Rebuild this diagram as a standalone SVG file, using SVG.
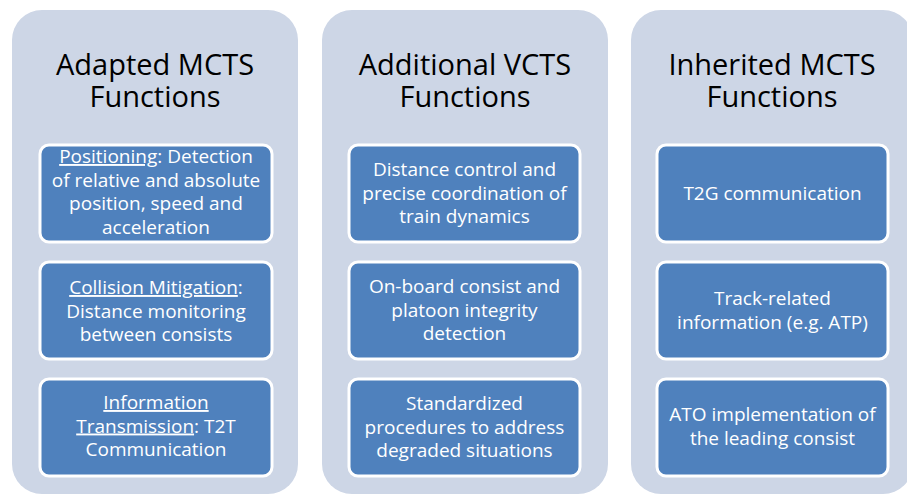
<svg xmlns="http://www.w3.org/2000/svg" width="907" height="496" viewBox="0 0 907 496">
<style>
.panel{fill:#cdd6e6;}
.box{fill:#4f81bd;stroke:#ffffff;stroke-width:3;}
.title{font-family:"Open Sans","Liberation Sans",sans-serif;font-size:29px;fill:#000000;text-anchor:middle;}
.lbl{font-family:"Open Sans","Liberation Sans",sans-serif;font-size:19px;fill:#ffffff;text-anchor:middle;}
.u{text-decoration:underline;}
</style>
<rect width="907" height="496" fill="#ffffff"/>
<g id="panel-adapted">
<rect class="panel" x="12" y="10" width="286" height="484" rx="30"/>
<text class="title" y="75"><tspan x="155">Adapted MCTS</tspan><tspan x="155" dy="32">Functions</tspan></text>
</g>
<g id="panel-additional">
<rect class="panel" x="322" y="10" width="286" height="484" rx="30"/>
<text class="title" y="75"><tspan x="465">Additional VCTS</tspan><tspan x="465" dy="32">Functions</tspan></text>
</g>
<g id="panel-inherited">
<rect class="panel" x="631" y="10" width="282" height="484" rx="30"/>
<text class="title" y="75"><tspan x="772">Inherited MCTS</tspan><tspan x="772" dy="32">Functions</tspan></text>
</g>
<g id="a1">
<rect class="box" x="40" y="145" width="232" height="97" rx="9"/>
<text class="lbl" y="163"><tspan x="156"><tspan class="u">Positioning</tspan>: Detection</tspan><tspan x="156" dy="23.5">of relative and absolute</tspan><tspan x="156" dy="23.5">position, speed and</tspan><tspan x="156" dy="23.5">acceleration</tspan></text>
</g>
<g id="a2">
<rect class="box" x="40" y="262" width="232" height="97" rx="9"/>
<text class="lbl" y="294"><tspan x="156"><tspan class="u">Collision Mitigation</tspan>:</tspan><tspan x="156" dy="23.5">Distance monitoring</tspan><tspan x="156" dy="23.5">between consists</tspan></text>
</g>
<g id="a3">
<rect class="box" x="40" y="379" width="232" height="97" rx="9"/>
<text class="lbl" y="409"><tspan x="156" class="u">Information</tspan><tspan x="156" dy="23.5"><tspan class="u">Transmission</tspan>: T2T</tspan><tspan x="156" dy="23.5">Communication</tspan></text>
</g>
<g id="b1">
<rect class="box" x="349" y="145" width="231" height="97" rx="9"/>
<text class="lbl" y="176"><tspan x="464.5">Distance control and</tspan><tspan x="464.5" dy="23.5">precise coordination of</tspan><tspan x="464.5" dy="23.5">train dynamics</tspan></text>
</g>
<g id="b2">
<rect class="box" x="349" y="262" width="231" height="97" rx="9"/>
<text class="lbl" y="293"><tspan x="464.5">On-board consist and</tspan><tspan x="464.5" dy="23.5">platoon integrity</tspan><tspan x="464.5" dy="23.5">detection</tspan></text>
</g>
<g id="b3">
<rect class="box" x="349" y="379" width="231" height="97" rx="9"/>
<text class="lbl" y="410"><tspan x="464.5">Standardized</tspan><tspan x="464.5" dy="23.5">procedures to address</tspan><tspan x="464.5" dy="23.5">degraded situations</tspan></text>
</g>
<g id="c1">
<rect class="box" x="657" y="145" width="231" height="97" rx="9"/>
<text class="lbl" x="772.5" y="200">T2G communication</text>
</g>
<g id="c2">
<rect class="box" x="657" y="262" width="231" height="97" rx="9"/>
<text class="lbl" y="305"><tspan x="772.5">Track-related</tspan><tspan x="772.5" dy="23.5">information (e.g. ATP)</tspan></text>
</g>
<g id="c3">
<rect class="box" x="657" y="379" width="231" height="97" rx="9"/>
<text class="lbl" y="421"><tspan x="772.5">ATO implementation of</tspan><tspan x="772.5" dy="23.5">the leading consist</tspan></text>
</g>
<g id="connectors"/>
</svg>
